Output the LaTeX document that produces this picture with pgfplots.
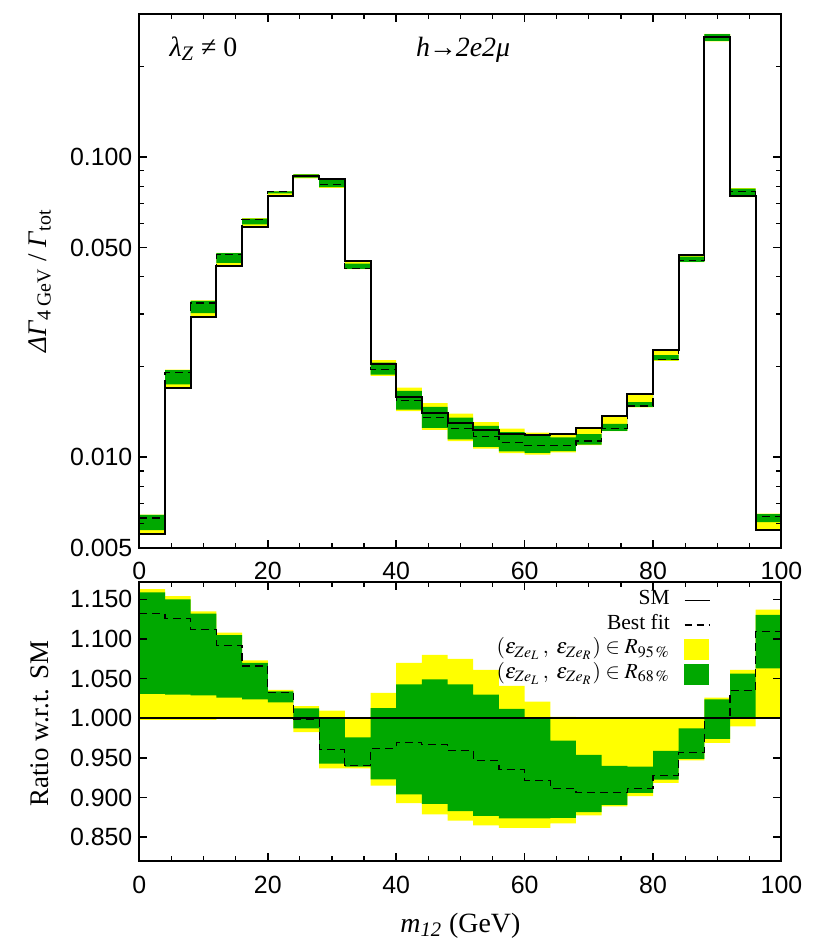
\documentclass[border=0pt]{standalone}
\usepackage{mathptmx}
\usepackage{fontspec}
\setmainfont{Liberation Serif}
\newfontfamily\sansfont{Liberation Sans}
\usepackage{pgfplots}
\usepackage{pgfplotstable}
\pgfplotsset{compat=1.18}
\usepgfplotslibrary{fillbetween}
\definecolor{bandyellow}{RGB}{255,255,0}
\definecolor{bandgreen}{RGB}{0,168,0}
\newcommand{\labfont}{\fontsize{13.5}{16}\selectfont}
\newcommand{\legfont}{\fontsize{10.8}{12}\selectfont}

\pgfplotstableread{
x sm yl gl bf gh yh
0 0.00554 0.00553 0.00571 0.00627 0.00642 0.00644
4 0.01697 0.01694 0.01748 0.01911 0.01952 0.01958
8 0.02934 0.02928 0.03019 0.03263 0.03321 0.03330
12 0.0433 0.04326 0.04443 0.04728 0.04785 0.04798
16 0.0583 0.05824 0.05970 0.06215 0.06238 0.06256
20 0.0743 0.07423 0.07579 0.07675 0.07683 0.07698
24 0.0865 0.08499 0.08542 0.08641 0.08759 0.08784
28 0.0843 0.07899 0.07950 0.08101 0.08430 0.08512
32 0.0452 0.04235 0.04244 0.04253 0.04412 0.04520
36 0.0204 0.01867 0.01883 0.01963 0.02067 0.02105
40 0.01593 0.01423 0.01440 0.01545 0.01662 0.01705
44 0.01402 0.01232 0.01251 0.01356 0.01471 0.01514
48 0.01299 0.01131 0.01147 0.01246 0.01355 0.01396
52 0.01234 0.01067 0.01082 0.01169 0.01271 0.01309
56 0.01197 0.01032 0.01046 0.01119 0.01211 0.01246
60 0.01183 0.01020 0.01034 0.01091 0.01183 0.01208
64 0.01197 0.01038 0.01047 0.01092 0.01164 0.01199
68 0.0125 0.01097 0.01102 0.01133 0.01193 0.01250
72 0.01374 0.01222 0.01224 0.01245 0.01292 0.01374
76 0.01625 0.01466 0.01472 0.01482 0.01526 0.01625
80 0.0228 0.02094 0.02104 0.02116 0.02187 0.02280
84 0.0472 0.04470 0.04479 0.04517 0.04661 0.04720
88 0.2507 0.24293 0.24418 0.2507 0.25672 0.25722
92 0.0743 0.07356 0.07445 0.07690 0.07850 0.07883
96 0.00571 0.00571 0.00607 0.00634 0.00646 0.00649
100 0.00571 0.00571 0.00607 0.00634 0.00646 0.00649
}\topdata

\pgfplotstableread{
x yl gl bf gh yh
0 0.998 1.031 1.132 1.159 1.163
4 0.998 1.030 1.126 1.150 1.154
8 0.998 1.029 1.112 1.132 1.135
12 0.999 1.026 1.092 1.105 1.108
16 0.999 1.024 1.066 1.070 1.073
20 0.999 1.020 1.033 1.034 1.036
24 0.9825 0.9875 0.999 1.0126 1.0155
28 0.937 0.943 0.961 1.000 1.0097
32 0.937 0.939 0.941 0.976 1.000
36 0.915 0.923 0.962 1.013 1.032
40 0.893 0.904 0.970 1.043 1.070
44 0.879 0.892 0.967 1.049 1.080
48 0.871 0.883 0.959 1.043 1.075
52 0.865 0.877 0.947 1.030 1.061
56 0.862 0.874 0.935 1.012 1.041
60 0.862 0.874 0.922 1.000 1.021
64 0.8675 0.8745 0.912 0.972 1.002
68 0.8775 0.8817 0.906 0.954 1.000
72 0.889 0.891 0.906 0.940 1.000
76 0.902 0.906 0.912 0.939 1.000
80 0.9185 0.9227 0.928 0.959 1.000
84 0.947 0.949 0.957 0.9875 1.000
88 0.969 0.974 1.000 1.024 1.026
92 0.990 1.002 1.035 1.0565 1.061
96 1.000 1.063 1.110 1.1305 1.137
100 1.000 1.063 1.110 1.1305 1.137
}\ratiodata

\pgfplotsset{
  common/.style={
    scale only axis, width=322.5pt,
    xmin=0, xmax=100,
    xtick={0,20,40,60,80,100}, minor x tick num=3,
    axis on top, axis line style={line width=1pt},
    major tick style={line width=0.8pt, black}, minor tick style={line width=0.6pt, black},
    major tick length=4pt, minor tick length=2.5pt,
    tick label style={font=\sansfont\fontsize{12.5}{15}\selectfont},
    /pgf/number format/assume math mode=true,
    xticklabel style={yshift=-4pt},
  },
}

\begin{document}
\begin{tikzpicture}
% ---------------- top panel ----------------
\begin{axis}[common,
  at={(70pt,-275pt)}, anchor=south west, height=268pt,
  ymode=log, ymin=0.005, ymax=0.3,
  ytick={0.005,0.01,0.05,0.1},
  yticklabels={0.005,0.010,0.050,0.100},
  minor ytick={0.006,0.007,0.008,0.009,0.02,0.03,0.04,0.06,0.07,0.08,0.09,0.2,0.3},
  ylabel={\labfont\textit{ΔΓ}\textsubscript{4\,GeV} / \textit{Γ}\textsubscript{tot}},
  every axis y label/.style={at={(axis description cs:-0.155,0.5)}, rotate=90, anchor=center, font=\labfont},
]
\addplot[name path=tyl, draw=none, const plot, forget plot] table[x=x,y=yl]{\topdata};
\addplot[name path=tyh, draw=none, const plot, forget plot] table[x=x,y=yh]{\topdata};
\addplot[fill=bandyellow, draw=none, forget plot] fill between[of=tyl and tyh];
\addplot[name path=tgl, draw=none, const plot, forget plot] table[x=x,y=gl]{\topdata};
\addplot[name path=tgh, draw=none, const plot, forget plot] table[x=x,y=gh]{\topdata};
\addplot[fill=bandgreen, draw=none, forget plot] fill between[of=tgl and tgh];
\addplot[black, line width=0.6pt, dash pattern=on 4pt off 2.5pt, const plot, forget plot] table[x=x,y=bf]{\topdata};
\addplot[black, line width=1pt, const plot, forget plot] table[x=x,y=sm]{\topdata};
\node[anchor=base west] at (rel axis cs:0.036,0.92) {\fontsize{14}{16}\selectfont\textit{λ}\textsubscript{\textit{Z}} ≠ 0};
\node[anchor=base west] at (rel axis cs:0.42,0.92) {\fontsize{14}{16}\selectfont\textit{h\kern-0.5pt→\kern-0.5pt2e2μ}};
\end{axis}
% ---------------- bottom panel ----------------
\begin{axis}[common,
  at={(70pt,-432.5pt)}, anchor=south west, height=140pt,
  ymin=0.82, ymax=1.1715,
  ytick={0.85,0.9,0.95,1,1.05,1.1,1.15},
  yticklabels={0.850,0.900,0.950,1.000,1.050,1.100,1.150},
  ylabel={\labfont Ratio w.r.t. SM},
  every axis y label/.style={at={(axis description cs:-0.155,0.493)}, rotate=90, anchor=center, font=\labfont},
  xlabel={\fontsize{14}{16}\selectfont\textit{m}\textsubscript{\textit{12}} (GeV)},
  every axis x label/.style={at={(axis description cs:0.5,-0.232)}, anchor=center},
  legend plot pos=right,
  legend cell align=right,
  legend style={at={(axis description cs:0.89,0.98)}, anchor=north east,
    draw=none, fill=none, inner sep=0pt, column sep=7pt, row sep=0pt,
    font=\legfont,
    nodes={inner sep=0pt, text height=8.3pt, text depth=4pt, font=\legfont}},
]
\addplot[name path=ryl, draw=none, const plot, forget plot] table[x=x,y=yl]{\ratiodata};
\addplot[name path=ryh, draw=none, const plot, forget plot] table[x=x,y=yh]{\ratiodata};
\addplot[fill=bandyellow, draw=none, forget plot] fill between[of=ryl and ryh];
\addplot[name path=rgl, draw=none, const plot, forget plot] table[x=x,y=gl]{\ratiodata};
\addplot[name path=rgh, draw=none, const plot, forget plot] table[x=x,y=gh]{\ratiodata};
\addplot[fill=bandgreen, draw=none, forget plot] fill between[of=rgl and rgh];
\addplot[black, line width=0.6pt, dash pattern=on 4pt off 2.5pt, const plot, forget plot] table[x=x,y=bf]{\ratiodata};
\addplot[black, line width=1pt, forget plot] coordinates {(0,1) (100,1)};
\addlegendimage{legend image code/.code={\draw[black, line width=0.9pt] (0pt,0pt) -- (12.5pt,0pt);}}
\addlegendentry{\legfont SM}
\addlegendimage{legend image code/.code={\draw[black, line width=0.6pt, dash pattern=on 3.5pt off 2.5pt] (0pt,0pt) -- (12.5pt,0pt);}}
\addlegendentry{\legfont Best fit}
\addlegendimage{legend image code/.code={\fill[bandyellow] (0pt,-5pt) rectangle (12pt,5pt);}}
\addlegendentry{\legfont $(\epsilon_{Ze_L}\,,\ \epsilon_{Ze_R})\in R_{95\,\%}$}
\addlegendimage{legend image code/.code={\fill[bandgreen] (0pt,-5pt) rectangle (12pt,5pt);}}
\addlegendentry{\legfont $(\epsilon_{Ze_L}\,,\ \epsilon_{Ze_R})\in R_{68\,\%}$}
\end{axis}
\path (0pt,0pt) rectangle (414pt,-472.5pt);
\end{tikzpicture}
\end{document}
